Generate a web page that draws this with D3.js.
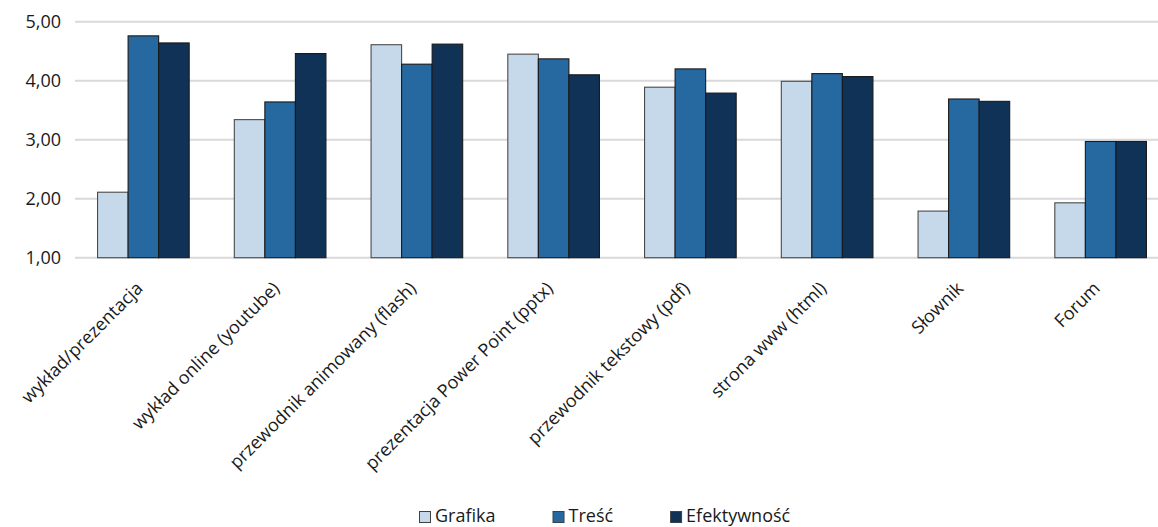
<!DOCTYPE html>
<html><head><meta charset="utf-8">
<script src="https://cdn.jsdelivr.net/npm/d3@7"></script>
<style>
html,body{margin:0;padding:0;background:#fff;overflow:hidden}
svg{display:block}
text{font-family:"Open Sans",sans-serif;fill:#1a1a1a}
</style></head>
<body>
<svg id="chart" width="1158" height="527"></svg>
<script>
const categories = ["wykład/prezentacja","wykład online (youtube)","przewodnik animowany (flash)","prezentacja Power Point (pptx)","przewodnik tekstowy (pdf)","strona www (html)","Słownik","Forum"];
const seriesNames = ["Grafika","Treść","Efektywność"];
const grafika = [2.11,3.34,4.61,4.45,3.89,3.99,1.79,1.93];
const tresc = [4.76,3.64,4.28,4.37,4.20,4.12,3.69,2.97];
const efektywnosc = [4.64,4.46,4.62,4.10,3.79,4.07,3.65,2.97];
const yTicks = [1,2,3,4,5];
const colors = ["#c6d9ea","#2569a0","#0f3256"];

const seriesValues = [grafika, tresc, efektywnosc];
const svg = d3.select("#chart");

const x = d3.scaleBand().domain(categories).range([75,1169]).paddingInner(0.33).paddingOuter(0.165);
const xs = d3.scaleBand().domain(seriesNames).range([0,x.bandwidth()]);
const y = d3.scaleLinear().domain([1,5]).range([257.7,21.7]);

// gridlines
svg.append("g").selectAll("line").data(yTicks).join("line")
  .attr("x1",75).attr("x2",1169)
  .attr("y1",d=>y(d)).attr("y2",d=>y(d))
  .attr("stroke","#d9d9d9").attr("stroke-width",2);

// y labels
const fmt = d => d.toFixed(2).replace(".",",");
svg.append("g").selectAll("text").data(yTicks).join("text")
  .attr("x",61).attr("y",d=>y(d)).attr("dy","0.36em")
  .attr("text-anchor","end").style("font-size","18px").text(fmt);

// bars
const rows = [];
categories.forEach((c,i)=>seriesNames.forEach((s,j)=>rows.push({c,s,j,v:seriesValues[j][i]})));
svg.append("g").selectAll("rect").data(rows).join("rect")
  .attr("x",d=>x(d.c)+xs(d.s))
  .attr("width",xs.bandwidth())
  .attr("y",d=>y(d.v))
  .attr("height",d=>y(1)-y(d.v))
  .attr("fill",d=>colors[d.j])
  .attr("stroke",d=>d.j===0?"#4a4a4a":"#1a1a1a").attr("stroke-width",1.1);

// x labels
svg.append("g").selectAll("text").data(categories).join("text")
  .attr("transform",d=>`translate(${x(d)+x.bandwidth()/2-4},${285}) rotate(-45)`)
  .attr("text-anchor","end").attr("dy","0.35em")
  .style("font-size","18px").text(d=>d);

// legend
const leg = svg.append("g");
let lx = 419;
seriesNames.forEach((s,j)=>{
  const g = leg.append("g").attr("transform",`translate(${lx},0)`);
  g.append("rect").attr("x",0.5).attr("y",511.5).attr("width",11).attr("height",11)
    .attr("fill",colors[j]).attr("stroke","#404040").attr("stroke-width",1);
  const t = g.append("text").attr("x",16).attr("y",521.5).style("font-size","18px").text(s);
  const w = t.node().getComputedTextLength();
  lx += 16 + w + 57;
});
</script>
</body></html>
